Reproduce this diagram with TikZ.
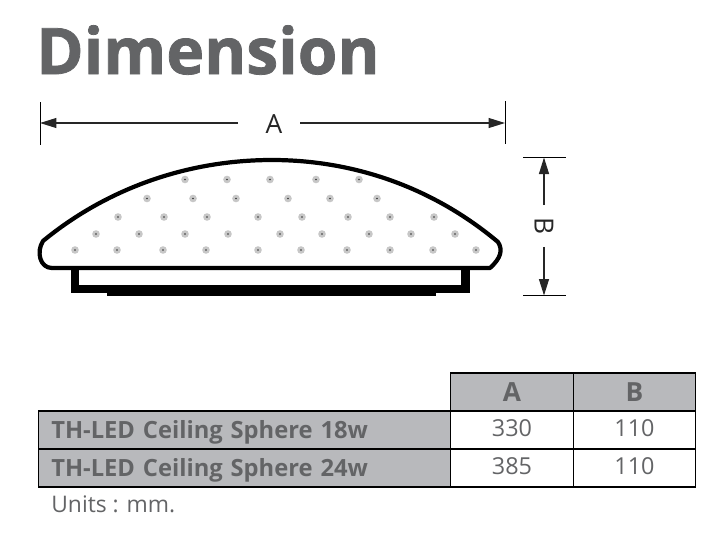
\documentclass[tikz,border=0pt]{standalone}
\usepackage{fontspec}
\setmainfont{Open Sans}
\newfontfamily\titlefont[BoldFeatures={FakeBold=1.2}]{Open Sans}
\usetikzlibrary{arrows.meta}
\definecolor{cellgray}{HTML}{B8B9BC}
\definecolor{textgray}{HTML}{636466}
\tikzset{
	dimline/.style={line width=0.7pt, draw=black!85, -{Triangle[length=0.33cm, width=0.2cm]}},
	dimtick/.style={line width=0.5pt, draw=black},
	hullline/.style={line width=2.4pt, line join=round},
	headcell/.style={draw=black, line width=0.8pt, fill=cellgray, text=textgray, minimum width=2.45cm, minimum height=0.76cm, inner sep=0pt, font=\fontsize{15pt}{15pt}\selectfont\bfseries},
	valuecell/.style={draw=black, line width=0.8pt, fill=white, text=textgray, minimum width=2.45cm, minimum height=0.76cm, inner sep=0pt, text height=9.3pt, text depth=1.7pt, font=\fontsize{13.3pt}{13.3pt}\selectfont},
	namecell/.style={draw=black, line width=0.8pt, fill=cellgray, text=textgray, minimum height=0.76cm, text width=7.73cm, inner xsep=0.26cm, inner ysep=0pt, text height=10pt, text depth=0.6pt, align=left, font=\fontsize{13.5pt}{13.5pt}\selectfont\bfseries},
}
\begin{document}
\begin{tikzpicture}[x=0.02cm, y=-0.02cm]
		\useasboundingbox (0, 0) rectangle (724, 538);
		%%%%% TITLE %%%%%
		\node[text=textgray, font=\fontsize{36.5pt}{36.5pt}\titlefont\bfseries] (title) at (208, 50) {Dimension};
		
		%%%%% LAMP %%%%%
		\draw[fill=black] (71, 268) rectangle (78, 292);
		\draw[fill=black] (71, 285) rectangle (469, 292);
		\draw[fill=black] (461, 268) rectangle (469, 292);
		\draw[fill=black] (107, 285) rectangle (435, 295);
		\draw[hullline, fill=white] (52, 268) .. controls (40, 268) and (36, 252) .. (43, 241)
			.. controls (105, 190) and (185, 160) .. (272, 160)
			.. controls (350, 160) and (430, 185) .. (498, 242)
			.. controls (503, 250) and (501, 258) .. (490, 268) -- cycle;
		
		\foreach \x in {185, 227, 270, 316, 359} {
			\fill[black!22] (\x, 179.5) circle (3.8);
			\fill[black!80] (\x, 179.5) circle (0.9);
		}
		\foreach \x in {147, 193, 236, 288, 330, 377} {
			\fill[black!22] (\x, 198.5) circle (3.8);
			\fill[black!80] (\x, 198.5) circle (0.9);
		}
		\foreach \x in {118, 164, 207, 258, 302, 348, 390, 434} {
			\fill[black!22] (\x, 217) circle (3.8);
			\fill[black!80] (\x, 217) circle (0.9);
		}
		\foreach \x in {96, 139, 185, 228, 280, 322, 369, 411, 455} {
			\fill[black!22] (\x, 234) circle (3.8);
			\fill[black!80] (\x, 234) circle (0.9);
		}
		\foreach \x in {75, 117, 163, 206, 258, 301, 347, 390, 433, 476} {
			\fill[black!22] (\x, 250) circle (3.8);
			\fill[black!80] (\x, 250) circle (0.9);
		}
		
		%%%%% DIMENSION A %%%%%
		\coordinate (atopl) at (40, 102);
		\coordinate (abotl) at (40, 145);
		\coordinate (atopr) at (505, 101);
		\coordinate (abotr) at (505, 144);
		\coordinate (aendl) at (40, 123);
		\coordinate (aendr) at (505, 123);
		\coordinate (agapl) at (238, 123);
		\coordinate (agapr) at (300, 123);
		\draw[dimtick] (atopl) -- (abotl);
		\draw[dimtick] (atopr) -- (abotr);
		\node[inner sep=0pt, text=black!85, font=\fontsize{15pt}{15pt}\selectfont] (labela) at (274, 124) {A};
		\draw[dimline] (agapl) -- (aendl);
		\draw[dimline] (agapr) -- (aendr);
		
		%%%%% DIMENSION B %%%%%
		\coordinate (btopl) at (523, 157.5);
		\coordinate (btopr) at (566, 157.5);
		\coordinate (bbotl) at (523, 295.5);
		\coordinate (bbotr) at (566, 295.5);
		\coordinate (bendt) at (544, 157.5);
		\coordinate (bendb) at (544, 295.5);
		\draw[dimtick] (btopl) -- (btopr);
		\draw[dimtick] (bbotl) -- (bbotr);
		\node[inner sep=0pt, minimum width=0.82cm, rotate=-90, text=black!85, font=\fontsize{15pt}{15pt}\selectfont] (labelb) at (544, 226) {B};
		\draw[dimline] (labelb) -- (bendt);
		\draw[dimline] (labelb) -- (bendb);
		
		%%%%% TABLE %%%%%
		\node[headcell] (heada) at (512, 392) {A};
		\node[headcell] (headb) at (634.5, 392) {B};
		\node[namecell] (namea) at (244.5, 430) {TH-LED Ceiling Sphere 18w};
		\node[valuecell] (vala) at (512, 430) {330};
		\node[valuecell] (valb) at (634.5, 430) {110};
		\node[namecell] (nameb) at (244.5, 468) {TH-LED Ceiling Sphere 24w};
		\node[valuecell] (valc) at (512, 468) {385};
		\node[valuecell] (vald) at (634.5, 468) {110};
		\node[anchor=west, inner sep=0pt, text=textgray, font=\fontsize{13pt}{13pt}\selectfont] (units) at (51, 504) {Units : mm.};
	\end{tikzpicture}
\end{document}
